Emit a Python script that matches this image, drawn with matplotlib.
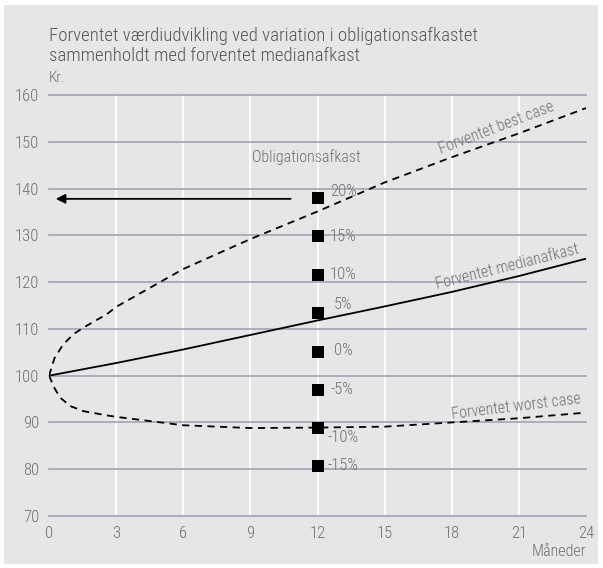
import matplotlib
matplotlib.use("Agg")
import matplotlib.pyplot as plt
from matplotlib import font_manager as fm
from matplotlib.patches import Rectangle

# ---- data ----
months_median = [0, 3, 6, 9, 12, 15, 18, 21, 24]
median = [100, 102.7, 105.6, 108.7, 111.8, 114.8, 117.9, 121.3, 125.0]

months_best = [0, 0.25, 0.64, 1.1, 1.55, 2.6, 3, 6, 9, 12, 15, 18, 21, 24]
best = [100, 103.8, 106.7, 108.9, 110.3, 113.2, 114.7, 122.8, 129.2, 135.1, 141.3, 146.7, 151.8, 157.2]

months_worst = [0, 0.25, 0.5, 0.95, 1.55, 2.6, 3, 4, 6, 9, 12, 15, 18, 21, 24]
worst = [100, 97.3, 95.3, 93.5, 92.4, 91.5, 91.2, 90.6, 89.4, 88.8, 88.9, 89.1, 90.0, 90.9, 92.1]

bond_labels = ["20%", "15%", "10%", "5%", "0%", "-5%", "-10%", "-15%"]
bond_values = [138.0, 129.8, 121.6, 113.3, 105.1, 97.0, 88.8, 80.7]
bond_month = 12

x_ticks = [0, 3, 6, 9, 12, 15, 18, 21, 24]
y_ticks = [70, 80, 90, 100, 110, 120, 130, 140, 150, 160]

title = "Forventet værdiudvikling ved variation i obligationsafkastet\nsammenholdt med forventet medianafkast"

# ---- font ----
names = {f.name for f in fm.fontManager.ttflist}
stretch = "normal"
family = "DejaVu Sans"
for cand in ["Liberation Sans Narrow", "Roboto Condensed", "Open Sans Condensed", "Noto Sans Condensed"]:
    if cand in names:
        family = cand
        break
else:
    if any("Condensed" in f.fname and "DejaVuSans" in f.fname for f in fm.fontManager.ttflist):
        stretch = "condensed"
plt.rcParams["font.family"] = family
plt.rcParams["font.stretch"] = stretch
plt.rcParams["font.weight"] = 300

txt = "#707070"
grid_h = "#a6a8b8"
bg = "#e6e6e8"

fig = plt.figure(figsize=(6.03, 5.68), dpi=100)
fig.patch.set_facecolor("white")

bgax = fig.add_axes([0, 0, 1, 1], zorder=-10)
bgax.set_xlim(0, 603)
bgax.set_ylim(0, 568)
bgax.axis("off")
bgax.add_patch(Rectangle((4, 4), 594, 559, facecolor=bg, edgecolor="none"))

ax = fig.add_axes([49 / 603, 1 - 516 / 568, 537 / 603, 421 / 568], zorder=1)
ax.set_facecolor(bg)
ax.set_xlim(0, 24)
ax.set_ylim(70, 160)
for s in ax.spines.values():
    s.set_visible(False)

for x in x_ticks[1:-1]:
    ax.axvline(x, color="white", lw=1.3, zorder=1)
for y in y_ticks:
    ax.axhline(y, color=grid_h, lw=1.3, zorder=1, clip_on=False)

ax.set_xticks(x_ticks)
ax.set_yticks(y_ticks)
ax.tick_params(length=0, labelsize=12, colors=txt, pad=7)

ax.plot(months_median, median, color="black", lw=1.3, zorder=3)
ax.plot(months_best, best, color="black", lw=1.3, ls=(0, (4, 3)), zorder=3)
ax.plot(months_worst, worst, color="black", lw=1.3, ls=(0, (4, 3)), zorder=3)

ax.scatter([bond_month] * len(bond_values), bond_values, marker="s", s=75,
           color="black", zorder=4, linewidths=0)

offsets = {"20%": (0.56, 1.3), "15%": (0.56, 0), "10%": (0.56, 0), "5%": (0.74, 1.9),
           "0%": (0.74, 0.2), "-5%": (0.59, 0.1), "-10%": (0.43, -2.1), "-15%": (0.43, 0.1)}
for lab, v in zip(bond_labels, bond_values):
    dx, dy = offsets[lab]
    ax.text(bond_month + dx, v + dy, lab, color=txt, fontsize=12, ha="left", va="center", zorder=5)

ax.text(11.5, 146.7, "Obligationsafkast", color=txt, fontsize=11.5, ha="center", va="center")

ax.annotate("", xy=(0.3, 137.8), xytext=(10.8, 137.8),
            arrowprops=dict(arrowstyle="-|>", color="black", lw=1.3,
                            mutation_scale=14, shrinkA=0, shrinkB=0), zorder=5)

ax.text(19.98, 152.9, "Forventet best case", color=txt, fontsize=11.5, rotation=21,
        ha="center", va="center", rotation_mode="anchor")
ax.text(20.5, 123.3, "Forventet medianafkast", color=txt, fontsize=11.5, rotation=14,
        ha="center", va="center", rotation_mode="anchor")
ax.text(20.87, 93.4, "Forventet worst case", color=txt, fontsize=11.5, rotation=7,
        ha="center", va="center", rotation_mode="anchor")

fig.text(49 / 603, 1 - 46 / 568, title, color="#555555", fontsize=13.5, ha="left", va="center",
         linespacing=1.2)
fig.text(49 / 603, 1 - 78 / 568, "Kr.", color=txt, fontsize=11, ha="left", va="center")
fig.text(586 / 603, 1 - 551 / 568, "Måneder", color=txt, fontsize=11.5, ha="right", va="center")

fig.savefig("out.png", dpi=100, facecolor=fig.get_facecolor())
